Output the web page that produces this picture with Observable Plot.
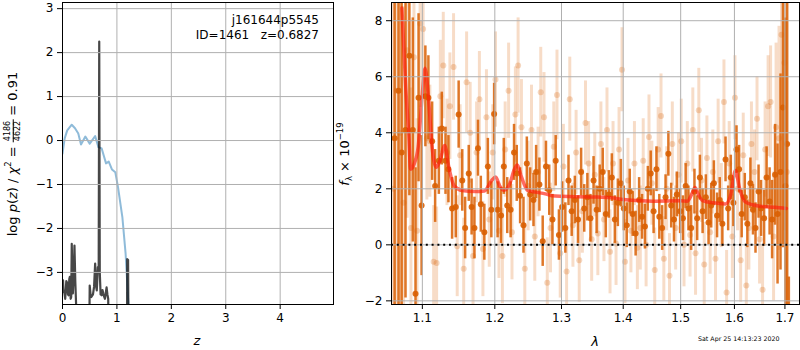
<!DOCTYPE html>
<html><head><meta charset="utf-8">
<script src="https://cdn.jsdelivr.net/npm/d3@7"></script>
<script src="https://cdn.jsdelivr.net/npm/@observablehq/plot@0.6"></script>
<style>
body{margin:0;background:#fff;font-family:"DejaVu Sans",sans-serif;}
#wrap{position:relative;width:800px;height:350px;overflow:hidden;background:#fff;}
.abs{position:absolute;white-space:nowrap;color:#000;line-height:1;}
.rot{transform:translate(-50%,-50%) rotate(-90deg);}
.frac{display:inline-flex;flex-direction:column;align-items:center;font-size:8px;line-height:1;vertical-align:middle;position:relative;top:-1px;}
.frac span:first-child{border-bottom:1px solid #000;padding:0 1px 1px 1px;}
sup{font-size:8.5px;vertical-align:6px;}
sub{font-size:8.5px;vertical-align:-3px;}
</style></head><body>
<div id="wrap">
 <div id="left" class="abs" style="left:0;top:0"></div>
 <div id="right" class="abs" style="left:340px;top:0"></div>
 <div class="abs rot" style="left:13px;top:154px;font-size:13px">log <i>p</i>(<i>z</i>) / <i>χ</i><sup>2</sup> = <span class="frac"><span>4186</span><span>4622</span></span> = 0.91</div>
 <div class="abs rot" style="left:345px;top:154px;font-size:13px"><i>f</i><sub>λ</sub> × 10<sup>−19</sup></div>
 <div class="abs" style="right:481px;top:14px;font-size:12px;text-align:right">j161644p5545</div>
 <div class="abs" style="right:481px;top:29px;font-size:12px;text-align:right;white-space:pre">ID=1461   z=0.6827</div>
 <div class="abs" style="left:197px;top:340px;font-size:13px;transform:translate(-50%,-50%)"><i>z</i></div>
 <div class="abs" style="left:595px;top:341px;font-size:13px;transform:translate(-50%,-50%)"><i>λ</i></div>
 <div class="abs" style="left:698px;top:336px;font-size:6.3px">Sat Apr 25 14:13:23 2020</div>
</div>
<script>
// ---------- Left panel: redshift fit ----------
const chiZ = [0.00,0.04,0.087,0.17,0.23,0.29,0.34,0.42,0.50,0.60,0.66,0.72,0.80,0.85,0.91,0.97,1.02,1.10,1.16,1.21,1.25];
const chiVal = [-0.30,0.05,0.23,0.36,0.28,0.16,-0.09,0.09,-0.07,0.10,-0.15,-0.18,-0.52,-0.48,-0.66,-0.72,-1.06,-1.74,-2.58,-3.70,-4.5];
const pzZ = [0.00,0.01,0.02,0.03,0.05,0.07,0.08,0.10,0.11,0.125,0.135,0.15,0.16,0.17,0.18,0.19,0.205,0.22,0.235,0.25,0.27,0.48,0.50,0.515,0.53,0.56,0.58,0.60,0.615,0.63,0.65,0.665,0.675,0.685,0.70,0.72,0.735,0.75,0.765,0.78,0.81,0.825,0.84,0.86,1.18,1.19,1.205,1.22];
const pzVal = [-3.25,-3.18,-3.45,-3.41,-3.60,-3.20,-3.22,-3.50,-3.52,-3.15,-3.10,-3.60,-3.56,-2.35,-3.00,-3.48,-3.10,-2.39,-3.20,-3.73,-6,-6,-3.30,-3.50,-3.56,-3.50,-3.33,-2.80,-3.30,-3.41,-2.88,-3.00,2.25,-3.00,-3.50,-3.52,-3.40,-3.48,-3.55,-3.60,-3.34,-3.50,-3.60,-6,-6,-2.70,-2.72,-6];
const zTicks = [0,1,2,3,4];
const lpTicks = [-3,-2,-1,0,1,2,3];

// ---------- Right panel: spectrum ----------
const darkWave = [1.064,1.069,1.073,1.078,1.083,1.0875,1.091,1.095,1.099,1.104,1.108,1.113,1.117,1.122,1.126,1.131,1.135,1.140,1.145,1.149,1.154,1.158,1.163,1.167,1.171,1.176,1.180,1.185,1.190,1.195,1.199,1.204,1.209,1.213,1.218,1.223,1.228,1.232,1.237,1.242,1.247,1.252,1.257,1.261,1.266,1.271,1.276,1.281,1.286,1.291,1.296,1.301,1.306,1.311,1.316,1.321,1.326,1.331,1.336,1.341,1.346,1.351,1.356,1.361,1.366,1.371,1.376,1.381,1.386,1.391,1.396,1.401,1.406,1.411,1.416,1.421,1.427,1.432,1.437,1.442,1.447,1.452,1.457,1.462,1.467,1.473,1.478,1.483,1.488,1.493,1.499,1.504,1.509,1.514,1.519,1.525,1.530,1.535,1.540,1.546,1.551,1.556,1.561,1.567,1.572,1.577,1.583,1.588,1.593,1.598,1.604,1.609,1.614,1.620,1.625,1.631,1.636,1.641,1.647,1.652,1.658,1.663,1.669,1.674,1.680,1.685,1.691,1.696,1.701,1.7045,1.708];
const darkFlux = [3.8,5.5,3.3,4.1,6.75,4.1,-1.75,5.25,1.4,5.3,5.25,3.7,2.1,3.0,4.15,3.0,2.7,1.3,1.35,4.65,2.3,0.6,2.55,1.35,0.6,3.45,1.45,0.45,2.8,1.25,4.67,1.25,1.05,2.8,1.4,1.25,3.3,2.55,1.75,0.7,2.9,1.8,1.6,2.6,2.15,0.13,2.8,1.95,0.9,3.0,0.35,1.35,0.6,2.3,1.2,1.6,0.9,2.6,1.3,1.7,0.95,2.3,1.25,2.0,2.6,1.1,1.8,2.4,0.9,1.5,2.2,1.3,0.7,1.9,1.1,0.4,1.6,1.0,0.65,2.0,2.55,1.2,2.7,1.0,0.6,1.7,3.25,1.4,0.9,1.8,1.2,0.95,2.1,1.3,0.6,1.9,0.95,2.4,1.2,1.7,0.8,1.4,2.2,1.05,1.6,0.75,3.05,1.3,2.4,1.5,3.4,2.7,1.1,1.7,0.75,2.2,1.25,0.6,1.9,1.3,0.95,2.4,1.55,0.9,2.5,1.1,2.6,4.9,2.1,3.6,-4.0];
const darkErr = [9,8,7,6,5,4,4.5,3,2.5,1.8,1.5,1.4,1.3,1.2,1.3,1.2,1.2,1.1,1.1,1.2,1.1,1.1,1.0,1.0,1.1,1.0,1.0,1.0,1.0,1.0,1.1,1.0,1.0,1.0,1.0,1.0,1.0,1.0,1.0,1.0,0.95,0.95,0.95,0.95,0.95,0.9,0.9,0.9,0.9,0.9,0.9,0.9,0.9,0.9,0.9,0.85,0.85,0.85,0.85,0.85,0.85,0.85,0.85,0.85,0.85,0.85,0.85,0.85,0.85,0.85,0.85,0.8,0.8,0.8,0.8,0.8,0.8,0.8,0.8,0.8,0.8,0.8,0.8,0.8,0.8,0.8,0.8,0.8,0.8,0.8,0.8,0.8,0.8,0.8,0.8,0.8,0.8,0.8,0.8,0.8,0.8,0.8,0.8,0.8,0.8,0.8,0.8,0.8,0.8,0.85,0.85,0.85,0.85,0.85,0.85,0.9,0.9,0.9,0.95,1.0,1.0,1.1,1.2,1.4,1.8,2.5,3.5,5,6,8,2.85];

const lightWave = [1.0625,1.0665,1.071,1.0755,1.080,1.085,1.089,1.093,1.097,1.101,1.106,1.110,1.115,1.119,1.124,1.128,1.133,1.137,1.142,1.147,1.151,1.156,1.160,1.165,1.169,1.174,1.178,1.183,1.188,1.192,1.197,1.201,1.206,1.211,1.215,1.220,1.225,1.230,1.234,1.239,1.244,1.249,1.254,1.259,1.264,1.268,1.273,1.278,1.283,1.288,1.293,1.298,1.303,1.308,1.313,1.318,1.323,1.328,1.333,1.338,1.343,1.348,1.353,1.358,1.363,1.368,1.373,1.378,1.383,1.388,1.393,1.398,1.403,1.408,1.413,1.419,1.424,1.429,1.434,1.439,1.444,1.449,1.454,1.460,1.465,1.470,1.475,1.480,1.485,1.491,1.496,1.501,1.506,1.512,1.517,1.522,1.527,1.533,1.538,1.543,1.548,1.554,1.559,1.564,1.569,1.575,1.580,1.585,1.590,1.596,1.601,1.606,1.612,1.617,1.623,1.628,1.633,1.639,1.644,1.649,1.655,1.660,1.666,1.671,1.677,1.682,1.688,1.693,1.699,1.704];
const lightFlux = [2.0,5.5,4.0,1.5,6.95,0.6,6.7,0.5,7.9,7.7,3.8,3.7,-0.6,-0.65,5.3,6.4,3.3,4.95,6.35,-0.05,3.2,-0.85,5.8,4.0,-0.4,3.3,5.2,-0.15,4.55,0.9,3.3,5.9,0.5,-0.4,3.4,5.5,0.45,4.65,6.4,4.2,-0.85,2.1,4.1,0.3,2.6,5.45,4.55,-1.35,0.6,3.5,5.35,-0.3,2.8,-0.95,5.2,0.7,3.3,-0.55,1.2,4.35,2.9,0.2,2.5,0.4,3.6,0.9,4.1,-0.25,2.9,0.05,3.4,6.25,-0.6,2.3,0.5,2.9,-0.1,0.6,3.0,0.0,3.85,2.2,-0.9,3.4,4.6,-0.5,2.0,-1.1,3.6,0.6,2.5,3.7,0.0,2.9,0.35,4.1,-0.3,4.8,2.3,-0.7,3.1,0.45,2.6,-0.5,3.7,1.4,5.1,-1.7,2.9,0.3,5.25,2.0,-0.55,3.2,-1.45,0.6,3.6,2.6,4.5,0.2,-1.6,3.4,4.95,5.1,0.3,4.2,3.8,7.5,6.5,2.6];
const lightErr = [10,9,8,7,6,5,4,4,3,2.5,2.2,2.0,2.0,2.0,2.0,1.9,1.9,1.9,1.9,1.8,1.8,1.8,1.8,1.8,1.8,1.8,1.7,1.7,1.7,1.7,1.7,1.7,1.7,1.7,1.7,1.7,1.7,1.7,1.7,1.7,1.6,1.6,1.6,1.6,1.6,1.6,1.6,1.6,1.6,1.6,1.6,1.6,1.5,1.5,1.5,1.5,1.5,1.5,1.5,1.5,1.5,1.5,1.5,1.5,1.5,1.5,1.5,1.5,1.5,1.5,1.5,1.5,1.5,1.5,1.5,1.5,1.5,1.5,1.5,1.5,1.5,1.5,1.5,1.5,1.5,1.5,1.5,1.5,1.5,1.5,1.5,1.5,1.5,1.5,1.5,1.5,1.5,1.5,1.5,1.5,1.5,1.5,1.5,1.5,1.5,1.5,1.5,1.5,1.5,1.5,1.5,1.5,1.5,1.5,1.5,1.5,1.5,1.5,1.5,1.6,1.6,1.7,1.8,2.0,2.3,3.0,4.0,5.0,6.0,8.0];

const modelWave = [1.0733,1.0785,1.0822,1.0846,1.0894,1.0945,1.100,1.1035,1.1085,1.1129,1.1184,1.1235,1.1299,1.1355,1.1429,1.1539,1.1717,1.185,1.1955,1.2013,1.207,1.2134,1.222,1.2285,1.233,1.238,1.2478,1.26,1.275,1.285,1.30,1.35,1.38,1.40,1.43,1.45,1.50,1.512,1.52,1.526,1.532,1.54,1.56,1.583,1.593,1.602,1.61,1.62,1.635,1.65,1.68,1.703];
const modelFlux = [8.45,5.5,3.95,2.7,2.9,3.5,5.4,6.3,5.1,3.5,2.77,3.0,3.55,2.77,2.1,1.94,1.9,1.92,2.3,2.42,2.1,1.95,2.2,2.7,2.85,2.5,1.95,1.88,1.82,1.75,1.73,1.71,1.68,1.62,1.57,1.56,1.57,1.56,1.8,2.05,1.8,1.58,1.5,1.46,1.8,2.65,2.0,1.55,1.43,1.38,1.34,1.3];
const lamTicks = [1.1,1.2,1.3,1.4,1.5,1.6,1.7];
const fTicks = [-2,0,2,4,6,8];

const ORANGE = "#d95f02";
const GRID = "#b0b0b0";
const font = {fontFamily:"DejaVu Sans", fontSize:"12px", color:"#000", background:"transparent", overflow:"visible"};

const chi = chiZ.map((z,i)=>({z, v: chiVal[i]}));
const pz = pzZ.map((z,i)=>({z, v: pzVal[i]}));
const dark = darkWave.map((w,i)=>({w, f: darkFlux[i], lo: darkFlux[i]-darkErr[i], hi: darkFlux[i]+darkErr[i]}));
const light = lightWave.map((w,i)=>({w, f: lightFlux[i], lo: lightFlux[i]-lightErr[i], hi: lightFlux[i]+lightErr[i]}));
const model = modelWave.map((w,i)=>({w, f: modelFlux[i]}));

const leftPlot = Plot.plot({
  width: 340, height: 350,
  marginLeft: 62, marginRight: 7, marginTop: 2, marginBottom: 46,
  style: font,
  x: {domain:[0,4.98], ticks: zTicks, tickFormat: d3.format("d"), label: null, tickSize: 5, tickPadding: 4},
  y: {domain:[-3.73,3.14], ticks: lpTicks, tickFormat: d3.format("d"), label: null, tickSize: 5, tickPadding: 4},
  marks: [
    Plot.line(chi, {x:"z", y:"v", stroke:"#1f77b4", strokeOpacity:0.5, strokeWidth:2, clip:true}),
    Plot.line(pz, {x:"z", y:"v", stroke:"#000", strokeOpacity:0.72, strokeWidth:2.2, clip:true}),
    Plot.ruleX(zTicks, {stroke: GRID, strokeWidth: 1}),
    Plot.ruleY(lpTicks, {stroke: GRID, strokeWidth: 1}),
    Plot.frame({stroke:"#000", strokeWidth:1})
  ]
});
document.getElementById("left").appendChild(leftPlot);

const rightPlot = Plot.plot({
  width: 460, height: 350,
  marginLeft: 51, marginRight: 1, marginTop: 2, marginBottom: 46,
  style: font,
  x: {type:"log", domain:[1.06,1.73], ticks: lamTicks, tickFormat: d3.format(".1f"), label: null, tickSize: 5, tickPadding: 4},
  y: {domain:[-2.13,8.65], ticks: fTicks, tickFormat: d3.format("d"), label: null, tickSize: 5, tickPadding: 4},
  marks: [
    Plot.ruleX(light, {x:"w", y1:"lo", y2:"hi", stroke: ORANGE, strokeOpacity:0.22, strokeWidth:3, clip:true}),
    Plot.dot(light, {x:"w", y:"f", r:3, fill: ORANGE, fillOpacity:0.25, stroke:null, clip:true}),
    Plot.ruleX(dark, {x:"w", y1:"lo", y2:"hi", stroke: ORANGE, strokeOpacity:0.85, strokeWidth:2.5, clip:true}),
    Plot.dot(dark, {x:"w", y:"f", r:3, fill: ORANGE, fillOpacity:0.9, stroke:null, clip:true}),
    Plot.line(model, {x:"w", y:"f", curve:"monotone-x", stroke:"#ff1a0a", strokeOpacity:0.65, strokeWidth:3.5, clip:true}),
    Plot.ruleX(lamTicks, {stroke: GRID, strokeWidth: 1}),
    Plot.ruleY(fTicks, {stroke: GRID, strokeWidth: 1}),
    Plot.ruleY([0], {stroke:"#000", strokeWidth:2, strokeDasharray:"2,3.8"}),
    Plot.frame({stroke:"#000", strokeWidth:1})
  ]
});
document.getElementById("right").appendChild(rightPlot);
</script>
</body></html>
